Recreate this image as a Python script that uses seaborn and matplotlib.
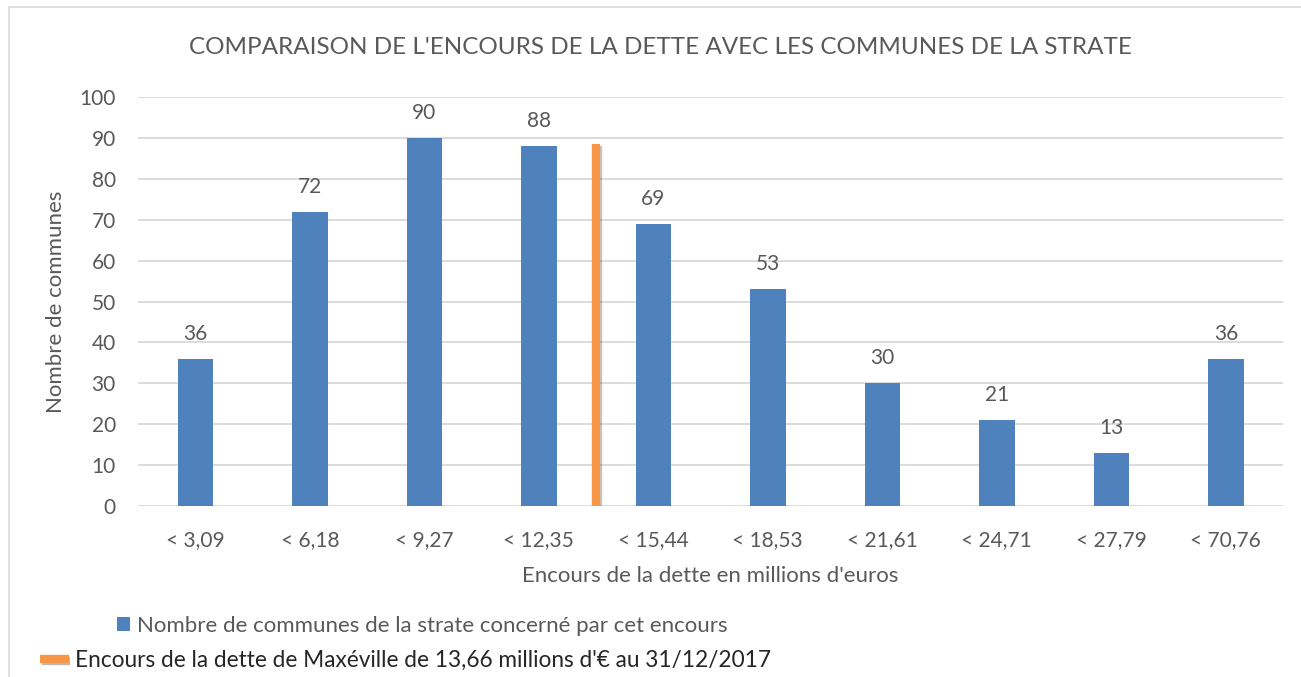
import matplotlib.pyplot as plt
import matplotlib.patheffects as pe
import numpy as np
import pandas as pd
import seaborn as sns
from matplotlib.lines import Line2D
from matplotlib.patches import Patch, Rectangle


BIN_LABELS = ["< 3,09", "< 6,18", "< 9,27", "< 12,35", "< 15,44",
              "< 18,53", "< 21,61", "< 24,71", "< 27,79", "< 70,76"]
BIN_UPPER = [3.09, 6.18, 9.27, 12.35, 15.44, 18.53, 21.61, 24.71, 27.79, 70.76]
COMMUNES = [36, 72, 90, 88, 69, 53, 30, 21, 13, 36]
MAXEVILLE_DEBT = 13.66
MAXEVILLE_LINE_TOP = 88.5
Y_TICKS = [0, 10, 20, 30, 40, 50, 60, 70, 80, 90, 100]

BLUE = "#4F81BD"
ORANGE = "#F79646"
GREY_TEXT = "#595959"
GRID = "#D9D9D9"


def main() -> None:
    sns.set_theme(style="white")
    plt.rcParams["font.family"] = ["Lato", "DejaVu Sans"]

    df = pd.DataFrame({"bin": BIN_LABELS, "n": COMMUNES})

    fig = plt.figure(figsize=(13.01, 6.77), dpi=100)
    ax = fig.add_axes([0.1061, 0.2526, 0.8801, 0.6041])

    sns.barplot(data=df, x="bin", y="n", color=BLUE, saturation=1,
                width=0.31, linewidth=0, ax=ax, zorder=3)

    # data labels above each bar
    for i, v in enumerate(COMMUNES):
        ax.annotate(str(v), (i, v), xytext=(0, 18), textcoords="offset points",
                    ha="center", va="center", fontsize=15, color=GREY_TEXT)

    # Maxéville marker sits on the boundary of the bin it falls into
    idx = int(np.searchsorted(BIN_UPPER, MAXEVILLE_DEBT))
    ax.plot([idx - 0.5, idx - 0.5], [0, MAXEVILLE_LINE_TOP], color=ORANGE,
            lw=6, solid_capstyle="butt", zorder=4,
            path_effects=[pe.SimpleLineShadow(offset=(1.5, -1.5), alpha=0.25),
                          pe.Normal()])

    ax.set_ylim(0, 100)
    ax.set_xlim(-0.5, len(BIN_LABELS) - 0.5)
    ax.set_yticks(Y_TICKS)
    ax.yaxis.grid(True, color=GRID, lw=1.3, zorder=0)
    ax.set_axisbelow(True)
    for s in ax.spines.values():
        s.set_visible(False)
    ax.tick_params(axis="both", length=0, labelsize=15, labelcolor=GREY_TEXT)
    ax.tick_params(axis="x", pad=17)
    ax.tick_params(axis="y", pad=16)

    ax.set_xlabel("Encours de la dette en millions d'euros", fontsize=16,
                  color=GREY_TEXT, labelpad=12)
    ax.set_ylabel("Nombre de communes", fontsize=16, color=GREY_TEXT,
                  labelpad=10)

    fig.text(0.508, 0.930, "COMPARAISON DE L'ENCOURS DE LA DETTE AVEC LES COMMUNES DE LA STRATE",
             ha="center", va="center", fontsize=17.5, color=GREY_TEXT)

    # chart frame
    fig.patches.append(Rectangle((0.007, -0.01), 1.1, 1.0, transform=fig.transFigure,
                                 fill=False, edgecolor="#D9D9D9", lw=1.2))

    bar_handle = Patch(facecolor=BLUE, edgecolor="none")
    fig.legend([bar_handle], ["Nombre de communes de la strate concerné par cet encours"],
               loc="center left", bbox_to_anchor=(0.083, 0.076), frameon=False,
               fontsize=16, labelcolor=GREY_TEXT, handlelength=0.6,
               handleheight=0.6, handletextpad=0.3, borderaxespad=0)

    line_handle = Line2D([], [], color=ORANGE, lw=6, solid_capstyle="butt",
                         path_effects=[pe.SimpleLineShadow(offset=(1, -1.5), alpha=0.3),
                                       pe.Normal()])
    fig.legend([line_handle],
               ["Encours de la dette de Maxéville de 13,66 millions d'\u20ac au 31/12/2017"],
               loc="center left", bbox_to_anchor=(0.024, 0.025), frameon=False,
               fontsize=16.3, labelcolor="#262626", handlelength=1.25,
               handletextpad=0.3, borderaxespad=0)

    fig.savefig("out.png", dpi=100)
    plt.close(fig)


if __name__ == "__main__":
    main()
